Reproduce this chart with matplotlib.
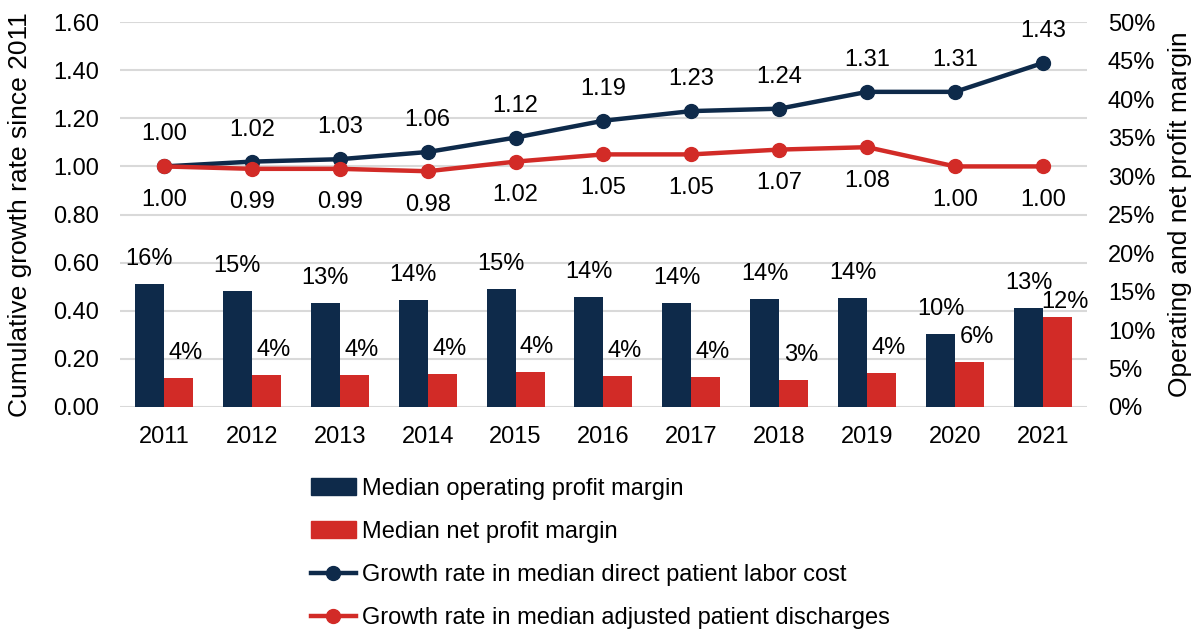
import numpy as np
import matplotlib
matplotlib.use("Agg")
import matplotlib.pyplot as plt
from matplotlib.patches import Patch
from matplotlib.lines import Line2D

years = ["2011", "2012", "2013", "2014", "2015", "2016", "2017", "2018", "2019", "2020", "2021"]
labor_growth = [1.00, 1.02, 1.03, 1.06, 1.12, 1.19, 1.23, 1.24, 1.31, 1.31, 1.43]
discharge_growth = [1.00, 0.99, 0.99, 0.98, 1.02, 1.05, 1.05, 1.07, 1.08, 1.00, 1.00]
operating_margin = [16.0, 15.1, 13.5, 13.9, 15.3, 14.3, 13.5, 14.0, 14.2, 9.5, 12.9]
net_margin = [3.8, 4.2, 4.2, 4.3, 4.5, 4.0, 3.9, 3.5, 4.4, 5.9, 11.7]
operating_labels = ["16%", "15%", "13%", "14%", "15%", "14%", "14%", "14%", "14%", "10%", "13%"]
net_labels = ["4%", "4%", "4%", "4%", "4%", "4%", "4%", "3%", "4%", "6%", "12%"]

navy = "#0e2a4a"
red = "#d22b27"

plt.rcParams["font.family"] = ["Liberation Sans", "DejaVu Sans"]
plt.rcParams["font.size"] = 17

fig = plt.figure(figsize=(11.98, 6.31), dpi=100)
ax = fig.add_axes([0.1002, 0.355, 0.8071, 0.610])
ax2 = ax.twinx()

x = np.arange(len(years))
w = 0.33

# bars on the right axis (drawn above the left-axis gridlines)
ax2.bar(x - w / 2, operating_margin, w, color=navy, zorder=2)
ax2.bar(x + w / 2, net_margin, w, color=red, zorder=2)
for i in range(len(years)):
    ax2.annotate(operating_labels[i], (x[i] - w / 2, operating_margin[i]), xytext=(0, 18),
                 textcoords="offset points", ha="center", va="center")
    # last pair sits close together, so the net label drops a little like the original
    dy = 11 if i == len(years) - 1 else 18
    ax2.annotate(net_labels[i], (x[i] + w / 2, net_margin[i]), xytext=(5, dy),
                 textcoords="offset points", ha="center", va="center")
ax2.set_ylim(0, 50)
ax2.set_yticks(np.arange(0, 51, 5))
ax2.set_yticklabels([f"{v}%" for v in range(0, 51, 5)])
ax2.set_ylabel("Operating and net profit margin", fontsize=19)
ax2.yaxis.set_label_coords(1.0838, 0.5)

# lines on the left axis
ax.plot(x, labor_growth, color=navy, lw=3.2, marker="o", ms=10, zorder=4)
ax.plot(x, discharge_growth, color=red, lw=3.2, marker="o", ms=10, zorder=4)
for i in range(len(years)):
    ax.annotate(f"{labor_growth[i]:.2f}", (x[i], labor_growth[i]), xytext=(0, 23),
                textcoords="offset points", ha="center", va="center")
    ax.annotate(f"{discharge_growth[i]:.2f}", (x[i], discharge_growth[i]), xytext=(0, -24),
                textcoords="offset points", ha="center", va="center")

ax.set_ylim(0, 1.6)
ax.set_yticks(np.arange(0, 1.61, 0.2))
ax.set_yticklabels([f"{v:.2f}" for v in np.arange(0, 1.61, 0.2)])
ax.set_xlim(-0.5, len(years) - 0.5)
ax.set_xticks(x)
ax.set_xticklabels(years)
ax.set_ylabel("Cumulative growth rate since 2011", fontsize=19)
ax.yaxis.set_label_coords(-0.091, 0.5)
ax.grid(axis="y", color="#d9d9d9", lw=1.5)
ax.set_axisbelow(True)

for a in (ax, ax2):
    for s in a.spines.values():
        s.set_visible(False)
    a.tick_params(length=0)
ax.tick_params(axis="x", pad=14)
ax.tick_params(axis="y", pad=15)
ax2.tick_params(axis="y", pad=15)

handles = [
    Patch(color=navy),
    Patch(color=red),
    Line2D([], [], color=navy, lw=3.2, marker="o", ms=10),
    Line2D([], [], color=red, lw=3.2, marker="o", ms=10),
]
labels = [
    "Median operating profit margin",
    "Median net profit margin",
    "Growth rate in median direct patient labor cost",
    "Growth rate in median adjusted patient discharges",
]
fig.legend(handles, labels, loc="upper left", bbox_to_anchor=(0.2596, 0.243), frameon=False,
           handlelength=1.9, handletextpad=0.25, labelspacing=0.9, borderaxespad=0,
           borderpad=0)

fig.savefig("out.png", dpi=100)
